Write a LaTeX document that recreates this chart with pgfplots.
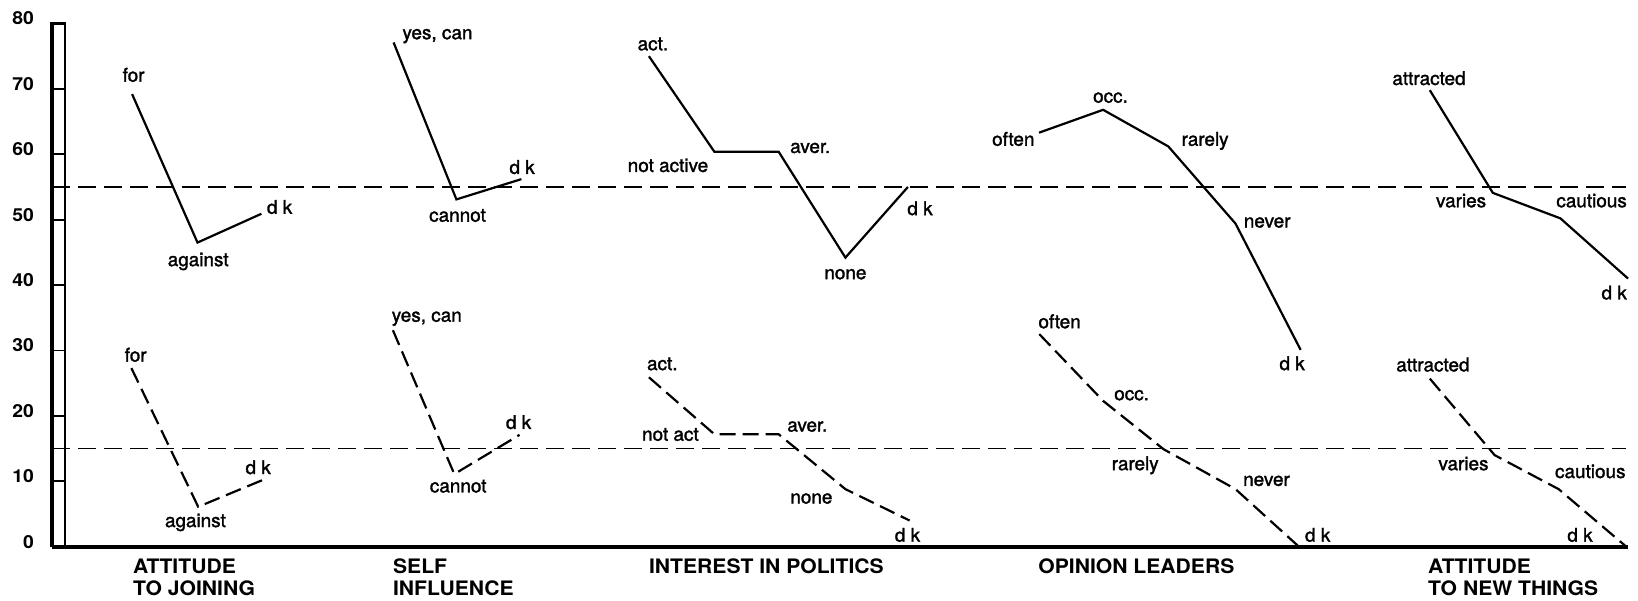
\documentclass[border=0pt]{standalone}
\usepackage{fontspec}
\setmainfont{TeX Gyre Heros}
\newfontfamily\labfont{TeX Gyre Heros}[FakeBold=1.6]
\newfontfamily\catfont{TeX Gyre Heros}[FakeStretch=1.06]
\newfontfamily\tickfont{TeX Gyre Heros}[FakeStretch=1.08]
\usepackage{pgfplots}
\pgfplotsset{compat=1.18}

\begin{document}
\begin{tikzpicture}[
    lbl/.style={anchor=base, inner sep=0pt, font=\labfont\fontsize{19}{19}\selectfont},
    cat/.style={anchor=base west, inner sep=0pt, font=\catfont\fontsize{20}{20}\selectfont\bfseries},
    ref/.style={black, line width=1.6bp, dash pattern=on 18bp off 8bp},
    solidline/.style={black, line width=2.2bp},
    dashline/.style={black, line width=2.2bp, dash pattern=on 16bp off 7bp},
]
\begin{axis}[
    x=1bp, y=6.54bp,
    xmin=52, xmax=1628,
    ymin=0, ymax=80,
    axis x line=bottom, axis y line=left,
    x axis line style={-, line width=4.3bp},
    y axis line style={-, line width=4.5bp},
    xtick=\empty,
    ytick={0,10,...,80},
    tick align=inside,
    major tick length=13bp,
    ytick style={line width=1.8bp, black},
    yticklabel style={anchor=east, inner sep=0pt, xshift=-18bp, yshift=5bp,
        font=\tickfont\fontsize{18}{18}\selectfont\bfseries,
        /pgf/number format/assume math mode=true},
    clip=false,
]
% ruler-style y axis
\draw[line width=2.4bp] (axis cs:65,0) -- (axis cs:65,80);
\draw[line width=3bp] (axis cs:49.75,80) -- (axis cs:66.2,80);

% reference levels
\addplot[ref] coordinates {(52,55) (1626,55)};
\addplot[ref] coordinates {(52,15) (1626,15)};

% attitude to joining
\addplot[solidline] coordinates {(132.1,69.2) (197.5,46.5) (261.4,50.9)};
\addplot[dashline] coordinates {(131.4,27.3) (198.2,6.1) (264.3,10.3)};
% self influence
\addplot[solidline] coordinates {(393.6,77.1) (456.4,53.1) (521.4,56.2)};
\addplot[dashline] coordinates {(392.9,33.1) (454.3,11.1) (519.6,17.1)};
% interest in politics
\addplot[solidline] coordinates {(648.9,75.0) (714.3,60.4) (778.6,60.4) (845.4,44.2) (907.9,55.0)};
\addplot[dashline] coordinates {(648.9,25.9) (714.3,17.2) (778.6,17.2) (845.4,8.8) (909.6,4.0)};
% opinion leaders
\addplot[solidline] coordinates {(1039,63.3) (1103.1,66.8) (1168.3,61.2) (1235.5,49.4) (1300.6,30.1)};
\addplot[dashline] coordinates {(1039.3,32.5) (1103.1,22.3) (1163.6,14.9) (1235.5,8.8) (1298.9,0)};
% attitude to new things
\addplot[solidline] coordinates {(1429.8,69.8) (1492.8,54.1) (1560.4,50.2) (1628,41.0)};
\addplot[dashline] coordinates {(1429.8,25.7) (1494.6,14.0) (1558.6,8.8) (1626.3,0)};

% point labels (upper)
\node[lbl] at (axis cs:133.6,71.1) {for};
\node[lbl] at (axis cs:198.2,42.9) {against};
\node[lbl] at (axis cs:279.6,50.9) {d k};
\node[lbl] at (axis cs:437.5,77.6) {yes, can};
\node[lbl] at (axis cs:457.5,49.7) {cannot};
\node[lbl] at (axis cs:522.1,57.0) {d k};
\node[lbl] at (axis cs:652.9,75.9) {act.};
\node[lbl] at (axis cs:668,57.3) {not active};
\node[lbl] at (axis cs:810.2,60.2) {aver.};
\node[lbl] at (axis cs:845.4,40.9) {none};
\node[lbl] at (axis cs:920,50.7) {d k};
\node[lbl] at (axis cs:1013.3,61.3) {often};
\node[lbl] at (axis cs:1110.5,67.9) {occ.};
\node[lbl] at (axis cs:1205.1,61.3) {rarely};
\node[lbl] at (axis cs:1267.2,48.8) {never};
\node[lbl] at (axis cs:1292.1,27.0) {d k};
\node[lbl] at (axis cs:1429,70.6) {attracted};
\node[lbl] at (axis cs:1461.1,51.9) {varies};
\node[lbl] at (axis cs:1591.6,51.9) {cautious};
\node[lbl] at (axis cs:1614.2,37.8) {d k};

% point labels (lower)
\node[lbl] at (axis cs:135.7,28.3) {for};
\node[lbl] at (axis cs:195.4,3.0) {against};
\node[lbl] at (axis cs:258.2,11.1) {d k};
\node[lbl] at (axis cs:426.8,34.4) {yes, can};
\node[lbl] at (axis cs:458.2,8.3) {cannot};
\node[lbl] at (axis cs:518.6,18.0) {d k};
\node[lbl] at (axis cs:662.3,27.0) {act.};
\node[lbl] at (axis cs:670.4,16.2) {not act};
\node[lbl] at (axis cs:807.3,17.6) {aver.};
\node[lbl] at (axis cs:811.4,6.6) {none};
\node[lbl] at (axis cs:907.5,0.76) {d k};
\node[lbl] at (axis cs:1059.6,33.4) {often};
\node[lbl] at (axis cs:1131.6,22.4) {occ.};
\node[lbl] at (axis cs:1135.2,11.7) {rarely};
\node[lbl] at (axis cs:1266.5,9.3) {never};
\node[lbl] at (axis cs:1317.7,0.76) {d k};
\node[lbl] at (axis cs:1432.9,26.8) {attracted};
\node[lbl] at (axis cs:1463.5,11.7) {varies};
\node[lbl] at (axis cs:1590.3,10.5) {cautious};
\node[lbl] at (axis cs:1580,0.76) {d k};

% category labels
\node[cat] at (axis cs:132.9,-4.07) {ATTITUDE};
\node[cat] at (axis cs:132.9,-7.39) {TO JOINING};
\node[cat] at (axis cs:392.9,-4.07) {SELF};
\node[cat] at (axis cs:392.9,-7.39) {INFLUENCE};
\node[cat] at (axis cs:648.9,-4.07) {INTEREST IN POLITICS};
\node[cat] at (axis cs:1038.2,-4.07) {OPINION LEADERS};
\node[cat] at (axis cs:1428,-4.07) {ATTITUDE};
\node[cat] at (axis cs:1428,-7.39) {TO NEW THINGS};

% page extent
\path (axis cs:0,-8.30) (axis cs:1638,83.59);
\end{axis}
\end{tikzpicture}
\end{document}
